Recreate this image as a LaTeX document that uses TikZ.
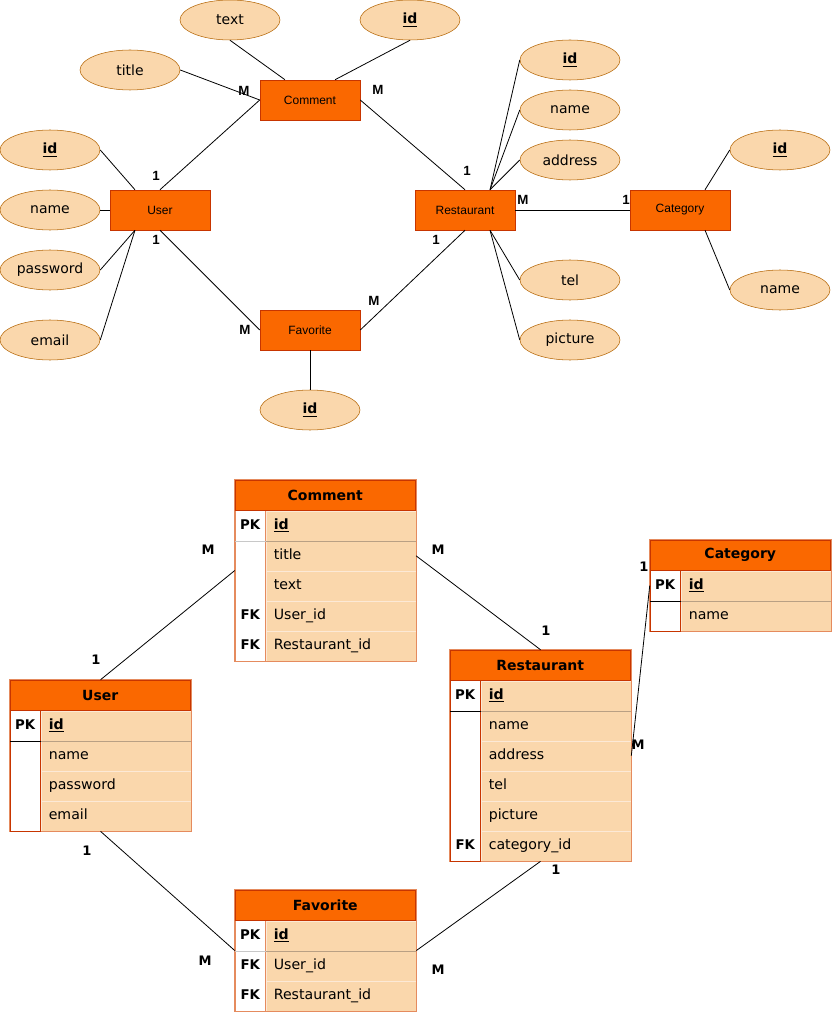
\documentclass[tikz,border=0pt]{standalone}
\usepackage{fontspec}
\setmainfont{DejaVu Sans}
\newfontfamily\arialfont{Liberation Sans}
\usetikzlibrary{shapes.geometric,calc,fit}
\definecolor{entfill}{HTML}{FA6800}
\definecolor{entline}{HTML}{C73500}
\definecolor{attrfill}{HTML}{FAD7AC}
\definecolor{attrline}{HTML}{B46504}
\definecolor{tabline}{HTML}{E58B5E}
\definecolor{rowline}{HTML}{FCE9D6}
\definecolor{idline}{HTML}{B9A084}
\definecolor{pkgrey}{HTML}{C8C8C8}

% table: name, corner, title, key/field rows, key column line, pk line
\newcommand\ertable[6]{%
  \node[tabhead] (#1) at (#2) {#3};
  \foreach \k/\f [count=\i] in {#4} {
    \node[keycell] (#1-k\i) at ($(#1.south west)+(0,{(\i-1)*30})$) {\k};
    \node[fieldcell] (#1-f\i) at (#1-k\i.north east) {\f};
    \node[fit=(#1)(#1-f\i),inner sep=0pt] (#1box) {};
  }
  \draw[tabline] (#1box.north west) rectangle (#1box.south east);
  \draw[#5] (#1.south west) rectangle (#1box.south west -| #1-k1.east);
  \draw[#6] (#1-k1.south west) -- (#1-k1.south east);
  \draw[idline] (#1-f1.south west) -- (#1-f1.south east);
  \draw[entline] (#1.north west) rectangle (#1.south east);
}
\newcommand\pkid{\underline{\textbf{id}}}

\begin{document}
\begin{tikzpicture}[x=0.75pt,y=-0.75pt,
    entity/.style={draw=entline,fill=entfill,minimum width=75pt,minimum height=30pt,
      inner sep=0pt,font=\arialfont\fontsize{9}{10}\selectfont},
    attr/.style={ellipse,draw=attrline,fill=attrfill,minimum width=75pt,minimum height=30pt,
      inner sep=0pt,font=\fontsize{10.5}{12}\selectfont},
    link/.style={line width=0.6pt},
    mult/.style={inner sep=0pt,font=\arialfont\bfseries\fontsize{10}{11}\selectfont},
    card/.style={inner sep=0pt,font=\bfseries\fontsize{9.8}{11}\selectfont},
    tabhead/.style={anchor=north west,fill=entfill,minimum width=135pt,minimum height=22.5pt,
      inner sep=0pt,font=\bfseries\fontsize{10.5}{12}\selectfont},
    keycell/.style={anchor=north west,fill=white,minimum width=22.5pt,minimum height=22.5pt,
      inner sep=0pt,text height=7.5pt,text depth=2pt,font=\bfseries\fontsize{10}{11}\selectfont},
    fieldcell/.style={anchor=north west,fill=attrfill,draw=rowline,text width=100.5pt,
      inner xsep=6pt,inner ysep=0pt,minimum height=22.5pt,align=left,
      text height=7.5pt,text depth=2pt,font=\fontsize{10.6}{12}\selectfont}]
\useasboundingbox (0,0) rectangle (832,1012);

% ER diagram
\node[entity] (comment) at (310,100) {Comment};
\node[entity] (user) at (160,210) {User};
\node[entity] (restaurant) at (465,210) {Restaurant};
\node[entity] (category) at (680,210) {Category};
\node[entity] (favorite) at (310,330) {Favorite};

\node[attr] (ctext) at (230,20) {text};
\node[attr] (cid) at (410,20) {\pkid};
\node[attr] (ctitle) at (130,70) {title};
\node[attr] (uid) at (50,150) {\pkid};
\node[attr] (uname) at (50,210) {name};
\node[attr] (upass) at (50,270) {password};
\node[attr] (uemail) at (50,340) {email};
\node[attr] (fid) at (310,410) {\pkid};
\node[attr] (rid) at (570,60) {\pkid};
\node[attr] (rname) at (570,110) {name};
\node[attr] (raddr) at (570,160) {address};
\node[attr] (rtel) at (570,280) {tel};
\node[attr] (rpic) at (570,340) {picture};
\node[attr] (catid) at (780,150) {\pkid};
\node[attr] (catname) at (780,290) {name};

\draw[link] (ctext.south) -- (comment.141);
\draw[link] (cid.south) -- (comment.39);
\draw[link] (ctitle.east) -- (comment.west);
\draw[link] (uid.east) -- (user.141);
\draw[link] (uname.east) -- (user.west);
\draw[link] (upass.east) -- (user.219);
\draw[link] (uemail.east) -- (user.219);
\draw[link] (favorite.south) -- (fid.north);
\draw[link] (restaurant.39) -- (rid.west);
\draw[link] (restaurant.39) -- (rname.west);
\draw[link] (restaurant.39) -- (raddr.west);
\draw[link] (restaurant.321) -- (rtel.west);
\draw[link] (restaurant.321) -- (rpic.west);
\draw[link] (category.39) -- (catid.west);
\draw[link] (category.321) -- (catname.west);

\draw[link] (user.north) -- (comment.west);
\draw[link] (comment.east) -- (restaurant.north);
\draw[link] (user.south) -- (favorite.west);
\draw[link] (favorite.east) -- (restaurant.south);
\draw[link] (restaurant.east) -- (category.west);

\node[mult] (uc1) at (156,176) {1};
\node[mult] (ucm) at (244,91) {M};
\node[mult] (crm) at (378,90) {M};
\node[mult] (cr1) at (467,171) {1};
\node[mult] (uf1) at (156,240) {1};
\node[mult] (ufm) at (245,330) {M};
\node[mult] (frm) at (374,301) {M};
\node[mult] (fr1) at (436,240) {1};
\node[mult] (rcm) at (523,200) {M};
\node[mult] (rc1) at (626,200) {1};

% tables
\ertable{comtab}{235,480}{Comment}{PK/\pkid, /title, /text, FK/User\_id, FK/Restaurant\_id}{draw=tabline}{pkgrey}
\ertable{usertab}{10,680}{User}{PK/\pkid, /name, /password, /email}{draw=entline}{black}
\ertable{restab}{450,650}{Restaurant}{PK/\pkid, /name, /address, /tel, /picture, FK/category\_id}{draw=entline}{black}
\ertable{cattab}{650,540}{Category}{PK/\pkid, /name}{draw=entline}{black}
\ertable{favtab}{235,890}{Favorite}{PK/\pkid, FK/User\_id, FK/Restaurant\_id}{draw=tabline}{pkgrey}

\draw[link] (usertabbox.north) -- (comtabbox.west);
\draw[link] (comtab-f2.east) -- (restabbox.north);
\draw[link] (cattabbox.west) -- (restabbox.east);
\draw[link] (usertabbox.south) -- (favtabbox.west);
\draw[link] (favtabbox.east) -- (restabbox.south);

\node[card] (tuc1) at (96,660) {1};
\node[card] (tucm) at (208,550) {M};
\node[card] (tcrm) at (438,550) {M};
\node[card] (tcr1) at (546,631) {1};
\node[card] (trc1) at (644,567) {1};
\node[card] (trcm) at (638,745) {M};
\node[card] (tuf1) at (87,851) {1};
\node[card] (tufm) at (205,961) {M};
\node[card] (tfr1) at (556,870) {1};
\node[card] (tfrm) at (438,970) {M};
\end{tikzpicture}
\end{document}
